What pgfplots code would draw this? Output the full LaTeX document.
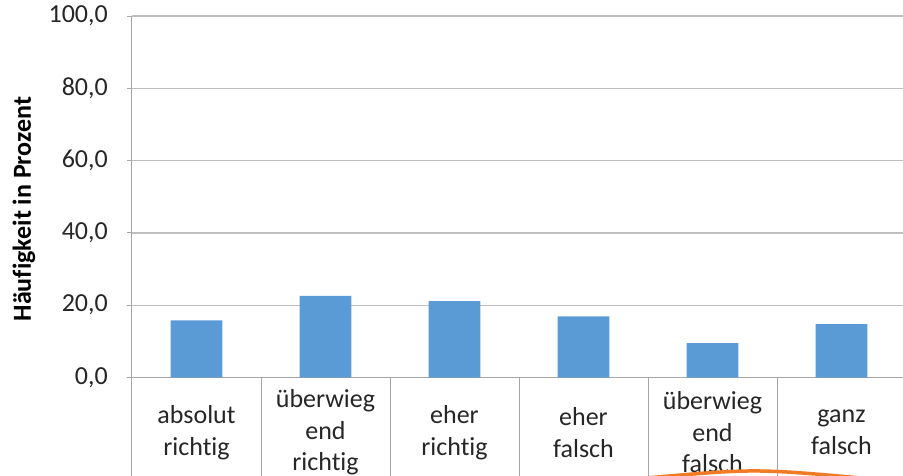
\documentclass[border=0pt]{standalone}
\usepackage{pgfplots}
\pgfplotsset{compat=1.18}
\usepackage{fontspec}
\setmainfont{Carlito}[Ligatures=NoCommon]
\definecolor{barblue}{HTML}{5B9BD5}
\definecolor{gridgray}{HTML}{BFBFBF}
\definecolor{axgray}{HTML}{A6A6A6}
\definecolor{txt}{HTML}{262626}
\definecolor{annot}{HTML}{F07B24}
\begin{document}
\begin{tikzpicture}
\useasboundingbox (0pt,0pt) rectangle (903pt,475pt);
\clip (0pt,0pt) rectangle (903pt,475pt);
\begin{axis}[
  at={(132pt,97.5pt)}, anchor=south west,
  scale only axis, width=774pt, height=361.5pt,
  xmin=-0.5, xmax=5.5, ymin=0, ymax=100,
  clip=false,
  ytick={0,20,...,100},
  xtick={0,...,5},
  xticklabels={{absolut\\richtig},{überwieg\\end\\richtig},{eher\\richtig},{eher\\falsch},{überwieg\\end\\falsch},{ganz\\falsch}},
  axis x line*=bottom, axis y line*=left,
  axis line style={axgray, line width=1pt, -},
  ymajorgrids, grid style={gridgray, line width=1.2pt},
  ytick pos=left, xtick pos=bottom,
  tick align=outside, major tick length=5pt,
  ytick style={axgray, line width=1pt},
  xtick style={draw=none},
  /pgf/number format/assume math mode=true,
  yticklabel style={/pgf/number format/fixed, /pgf/number format/fixed zerofill, /pgf/number format/precision=1, /pgf/number format/use comma, font=\fontsize{26}{31}\selectfont, text=txt, anchor=east, inner sep=0pt, xshift=-19pt},
  xticklabel style={align=center, anchor=center, font=\fontsize{26}{31.5}\selectfont, text=txt, inner sep=0pt, yshift=-50pt},
  ylabel={Häufigkeit in Prozent},
  ylabel style={at={(axis description cs:-0.1395,0.466)}, anchor=center, font=\bfseries\fontsize{26}{31}\selectfont, text=black},
]
\addplot[ybar, fill=barblue, draw=none, bar width=0.4] coordinates {(0,15.8) (1,22.6) (2,21.1) (3,16.9) (4,9.5) (5,14.8)};
\pgfplotsinvokeforeach{-0.5,0.5,1.5,2.5,3.5,4.5,5.5}{\draw[axgray, line width=1pt] (axis cs:#1,0) -- ([yshift=-130pt]axis cs:#1,0);}
\end{axis}
\draw[annot, line width=3.5pt] (640pt,-3.6pt) .. controls (754pt,6.6pt) .. (868pt,-3.6pt);
\end{tikzpicture}
\end{document}
